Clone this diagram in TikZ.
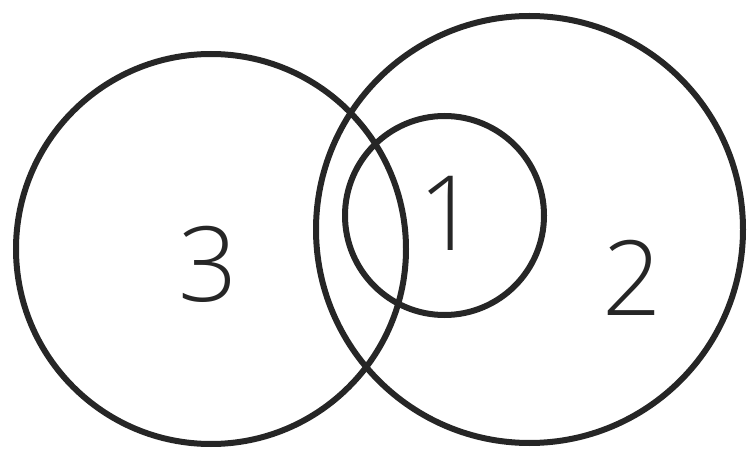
\documentclass[tikz,border=0pt]{standalone}
\usepackage{fontspec}
\setmainfont{Open Sans}[UprightFont=* Light]
\definecolor{ink}{HTML}{262626}
\begin{document}
\begin{tikzpicture}[x=1pt,y=-1pt,
  ring/.style={draw=ink,line width=6pt,circle,inner sep=0pt,fill=none},
  digit/.style={text=ink,font=\fontsize{104}{104}\selectfont,inner sep=0pt}]
\useasboundingbox (0,0) rectangle (747,449);
\node[ring,minimum size=390pt] (c3) at (211,249) {};
\node[ring,minimum size=427pt] (c2) at (529.5,229.5) {};
\node[ring,minimum size=199pt] (c1) at (444.5,215.5) {};
\node[digit] (l3) at (208,264) {3};
\node[digit] (l1) at (448,213) {1};
\node[digit] (l2) at (632,278) {2};
\end{tikzpicture}
\end{document}
